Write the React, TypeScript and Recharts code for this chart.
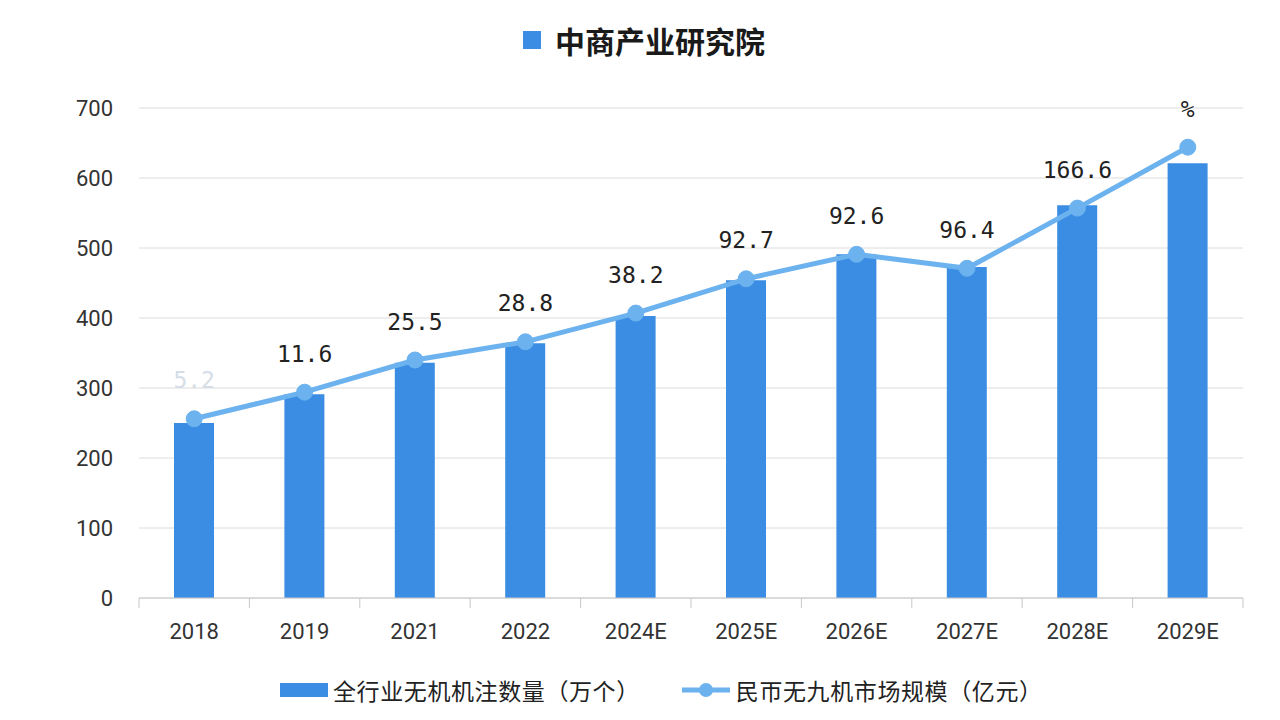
import React from "react";
import {
  ComposedChart,
  Bar,
  Line,
  XAxis,
  YAxis,
  CartesianGrid,
  LabelList,
} from "recharts";

const years = ["2018", "2019", "2021", "2022", "2024E", "2025E", "2026E", "2027E", "2028E", "2029E"];
const registered = [250, 291, 336, 364, 403, 454, 491, 473, 561, 621];
const marketSize = [256, 294, 340, 366, 407, 456, 491, 471, 557, 644];
const pointLabels = ["5.2", "11.6", "25.5", "28.8", "38.2", "92.7", "92.6", "96.4", "166.6", "%"];
const yTicks = [0, 100, 200, 300, 400, 500, 600, 700];

const barName = "全行业无机机注数量（万个）";
const lineName = "民帀无九机市场规模（亿元）";

const BAR_COLOR = "#3a8de3";
const LINE_COLOR = "#6cb2ee";
const BAND = 110.4;

const data = years.map((y, i) => ({
  year: y,
  registered: registered[i],
  market: marketSize[i],
  label: pointLabels[i],
}));

function XTick(props: any) {
  const { x, y, payload, index } = props;
  const isLast = index === years.length - 1;
  return (
    <g>
      <line x1={x - BAND / 2} x2={x - BAND / 2} y1={598} y2={608} stroke="#c8c8c8" />
      {isLast && <line x1={x + BAND / 2} x2={x + BAND / 2} y1={598} y2={608} stroke="#c8c8c8" />}
      <text x={x} y={y + 33} textAnchor="middle" fontSize={22} fill="#333" fontFamily="Roboto, 'Noto Sans', sans-serif">
        {payload.value}
      </text>
    </g>
  );
}

function PointLabel(props: any) {
  const { x, y, value, index } = props;
  return (
    <text
      x={x}
      y={y - 37}
      textAnchor="middle"
      dominantBaseline="middle"
      fontSize={23}
      fill={index === 0 ? "#d6dde6" : "#222"}
      fontFamily="'DejaVu Sans Mono', monospace"
    >
      {value}
    </text>
  );
}

export default function App() {
  return (
    <div style={{ position: "absolute", left: 0, top: 0, width: 1280, height: 720, background: "#fff" }}>
      <div
        style={{
          position: "absolute",
          left: 523,
          top: 18,
          display: "flex",
          alignItems: "center",
          fontFamily: "'Noto Sans CJK SC', sans-serif",
          fontWeight: 600,
          fontSize: 30,
          color: "#1a1a1a",
        }}
      >
        <span style={{ display: "inline-block", width: 18, height: 18, background: BAR_COLOR, marginRight: 14 }} />
        <span>中商产业研究院</span>
      </div>
      <ComposedChart
        width={1280}
        height={720}
        data={data}
        margin={{ top: 108, right: 37, bottom: 0, left: 0 }}
      >
        <CartesianGrid vertical={false} stroke="#dcdcdc" />
        <XAxis
          dataKey="year"
          axisLine={{ stroke: "#c8c8c8" }}
          tickLine={false}
          tick={<XTick />}
          height={122}
          interval={0}
        />
        <YAxis
          domain={[0, 700]}
          ticks={yTicks}
          axisLine={false}
          tickLine={false}
          tickSize={0}
          tickMargin={26}
          width={139}
          tick={{ fontSize: 22, fill: "#333", fontFamily: "Roboto, 'Noto Sans', sans-serif" }}
        />
        <Bar dataKey="registered" name={barName} fill={BAR_COLOR} barSize={40} isAnimationActive={false} />
        <Line
          dataKey="market"
          name={lineName}
          stroke={LINE_COLOR}
          strokeWidth={5}
          dot={{ r: 8, fill: LINE_COLOR, stroke: LINE_COLOR, strokeWidth: 1 }}
          isAnimationActive={false}
        >
          <LabelList dataKey="label" content={<PointLabel />} />
        </Line>
      </ComposedChart>
      <div
        style={{
          position: "absolute",
          left: 280,
          top: 673,
          display: "flex",
          alignItems: "center",
          fontFamily: "'Noto Sans CJK SC', sans-serif",
          fontSize: 23,
          letterSpacing: 0.6,
          color: "#222",
          whiteSpace: "nowrap",
        }}
      >
        <span style={{ display: "inline-block", width: 48, height: 14, background: BAR_COLOR, marginRight: 5 }} />
        <span>{barName}</span>
        <svg width={48} height={20} style={{ marginLeft: 42, marginRight: 6 }}>
          <line x1={0} x2={48} y1={10} y2={10} stroke={LINE_COLOR} strokeWidth={5} />
          <circle cx={24} cy={10} r={7} fill={LINE_COLOR} />
        </svg>
        <span>{lineName}</span>
      </div>
    </div>
  );
}
